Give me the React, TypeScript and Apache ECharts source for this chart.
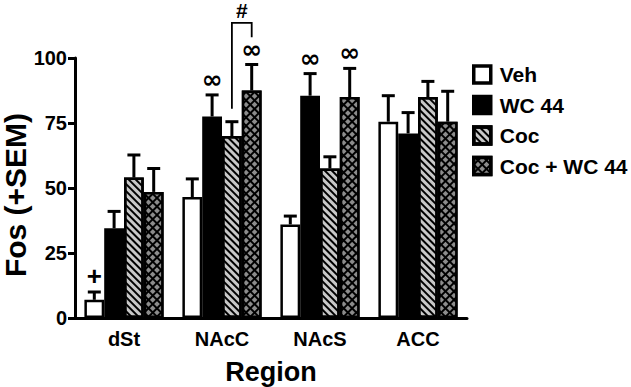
import React, { useEffect, useRef } from "react";
import * as echarts from "echarts";

const categories = ["dSt", "NAcC", "NAcS", "ACC"];
const seriesNames = ["Veh", "WC 44", "Coc", "Coc + WC 44"];
const vehMean = [7, 46.5, 36, 75.5];
const wc44Mean = [34.5, 77.5, 85.5, 71];
const cocMean = [54, 70, 57.5, 85];
const cocWcMean = [48.5, 87.5, 85, 75.5];
const vehSem = [3, 7, 3.2, 10];
const wc44Sem = [6.5, 8.3, 8.5, 8];
const cocSem = [8.7, 5.5, 4.5, 6];
const cocWcSem = [9, 10, 11, 11.7];
const yTicks = [0, 25, 50, 75, 100];
const yTitle = "Fos (+SEM)";
const xTitle = "Region";

// significance marks: [categoryIndex, seriesIndex, symbol]
const marks: [number, number, string][] = [
  [0, 0, "+"],
  [1, 1, "∞"],
  [1, 3, "∞"],
  [2, 1, "∞"],
  [2, 3, "∞"],
];
// bracket: [categoryIndex, leftSeries, rightSeries, leftBottom, rightBottom, top, label]
const brackets: [number, number, number, number, number, number, string][] = [
  [1, 2, 3, 80.5, 108, 113.5, "#"],
];

const FONT = "'Liberation Sans', Arial, sans-serif";
const BAR_W = 19.8;

export default function App() {
  const ref = useRef<HTMLDivElement>(null);
  useEffect(() => {
    if (!ref.current) return;
    const chart = echarts.init(ref.current, undefined, { renderer: "svg" });
    const means = [vehMean, wc44Mean, cocMean, cocWcMean];
    const sems = [vehSem, wc44Sem, cocSem, cocWcSem];
    const fills = ["#ffffff", "#000000", "#c8c8c8", "#000000"];
    const decals: any[] = [
      null,
      null,
      {
        symbol: "rect",
        symbolSize: 1,
        color: "#000000",
        backgroundColor: "#c8c8c8",
        dashArrayX: [1, 0],
        dashArrayY: [1.5, 2.5],
        rotation: Math.PI / 4,
      },
      {
        symbol: "rect",
        symbolSize: 1,
        color: "#8c8c8c",
        backgroundColor: "#000000",
        dashArrayX: [3.5, 1.5],
        dashArrayY: [3.5, 1.5],
        rotation: Math.PI / 4,
      },
    ];

    const barSeries = seriesNames.map((name, i) => ({
      name,
      type: "bar",
      data: means[i],
      barWidth: BAR_W,
      barGap: "0%",
      itemStyle: {
        color: fills[i],
        borderColor: "#000",
        borderWidth: 2.5,
        ...(decals[i] ? { decal: decals[i] } : {}),
      },
      z: 2,
    }));

    const errData: number[][] = [];
    for (let s = 0; s < 4; s++) {
      for (let c = 0; c < categories.length; c++) {
        errData.push([c, means[s][c] + sems[s][c], means[s][c], s]);
      }
    }

    const markData = marks.map(([c, s, sym]) => [
      c,
      means[s][c] + sems[s][c],
      s,
      sym,
    ]);

    const option: any = {
      animation: false,
      grid: {
        left: 75,
        right: 164,
        top: 58,
        bottom: 69,
        containLabel: false,
        outerBoundsMode: "none",
      },
      graphic: [
        {
          type: "text",
          x: 15,
          y: 195,
          rotation: Math.PI / 2,
          style: {
            text: yTitle,
            align: "center",
            verticalAlign: "middle",
            fill: "#000",
            font: `bold 30px ${FONT}`,
          },
        },
      ],
      legend: {
        orient: "vertical",
        left: 472,
        top: 64,
        padding: 0,
        itemWidth: 17,
        itemHeight: 17,
        itemGap: 9.5,
        icon: "rect",
        data: seriesNames,
        itemStyle: { borderColor: "#000", borderWidth: 3.5 },
        textStyle: {
          fontFamily: FONT,
          fontWeight: "bold",
          fontSize: 21,
          color: "#000",
          padding: [0, 0, 0, 4],
        },
      },
      xAxis: {
        type: "category",
        data: categories,
        name: xTitle,
        nameLocation: "middle",
        nameGap: 40,
        nameTextStyle: { fontFamily: FONT, fontWeight: "bold", fontSize: 27, color: "#000" },
        axisLine: { lineStyle: { color: "#000", width: 3 } },
        axisTick: { alignWithLabel: true, length: 5, lineStyle: { width: 2, color: "#000" } },
        axisLabel: { fontFamily: FONT, fontWeight: "bold", fontSize: 20, color: "#000", margin: 11 },
      },
      yAxis: {
        type: "value",
        min: yTicks[0],
        max: yTicks[yTicks.length - 1],
        interval: 25,
        axisLine: { show: true, lineStyle: { color: "#000", width: 3 } },
        axisTick: { show: true, length: 7, lineStyle: { width: 3, color: "#000" } },
        axisLabel: { fontFamily: FONT, fontWeight: "bold", fontSize: 20, color: "#000", margin: 8 },
        splitLine: { show: false },
      },
      series: [
        ...barSeries,
        {
          type: "custom",
          name: "err",
          data: errData,
          encode: { x: 0, y: 1 },
          z: 3,
          renderItem: (params: any, api: any) => {
            const c = api.value(0);
            const top = api.coord([c, api.value(1)]);
            const mid = api.coord([c, api.value(2)]);
            const s = api.value(3);
            const x = top[0] + (s - 1.5) * BAR_W;
            const style = { stroke: "#000", lineWidth: 3, fill: null };
            return {
              type: "group",
              children: [
                { type: "line", shape: { x1: x, y1: mid[1], x2: x, y2: top[1] }, style },
                { type: "line", shape: { x1: x - 6.5, y1: top[1], x2: x + 6.5, y2: top[1] }, style },
              ],
            };
          },
        },
        {
          type: "custom",
          name: "marks",
          data: markData,
          encode: { x: 0, y: 1 },
          z: 4,
          renderItem: (params: any, api: any) => {
            const c = api.value(0);
            const p = api.coord([c, api.value(1)]);
            const s = api.value(2);
            const sym = markData[params.dataIndex][3] as string;
            const x = p[0] + (s - 1.5) * BAR_W;
            return {
              type: "text",
              style: {
                x,
                y: p[1] - 3,
                text: sym,
                align: "center",
                verticalAlign: "bottom",
                fill: "#000",
                font: sym === "+" ? `bold 26px ${FONT}` : `bold 25px 'DejaVu Sans', ${FONT}`,
              },
            };
          },
        },
        {
          type: "custom",
          name: "bracket",
          data: brackets.map((b) => [b[0], b[5], b[1], b[2], b[3], b[4]]),
          encode: { x: 0, y: 1 },
          z: 4,
          renderItem: (params: any, api: any) => {
            const c = api.value(0);
            const topP = api.coord([c, api.value(1)]);
            const l = api.value(2);
            const r = api.value(3);
            const lb = api.coord([c, api.value(4)]);
            const rb = api.coord([c, api.value(5)]);
            const xl = topP[0] + (l - 1.5) * BAR_W;
            const xr = topP[0] + (r - 1.5) * BAR_W;
            const style = { stroke: "#000", lineWidth: 1.8, fill: null };
            return {
              type: "group",
              children: [
                {
                  type: "polyline",
                  shape: { points: [[xl, lb[1]], [xl, topP[1]], [xr, topP[1]], [xr, rb[1]]] },
                  style,
                },
                {
                  type: "text",
                  style: {
                    x: (xl + xr) / 2,
                    y: topP[1] - 2,
                    text: brackets[params.dataIndex][6],
                    align: "center",
                    verticalAlign: "bottom",
                    fill: "#000",
                    font: `bold 21px ${FONT}`,
                  },
                },
              ],
            };
          },
        },
      ],
    };
    chart.setOption(option);
    return () => chart.dispose();
  }, []);
  return (
    <div
      ref={ref}
      style={{ position: "fixed", left: 0, top: 0, width: 631, height: 387, background: "#fff" }}
    />
  );
}
